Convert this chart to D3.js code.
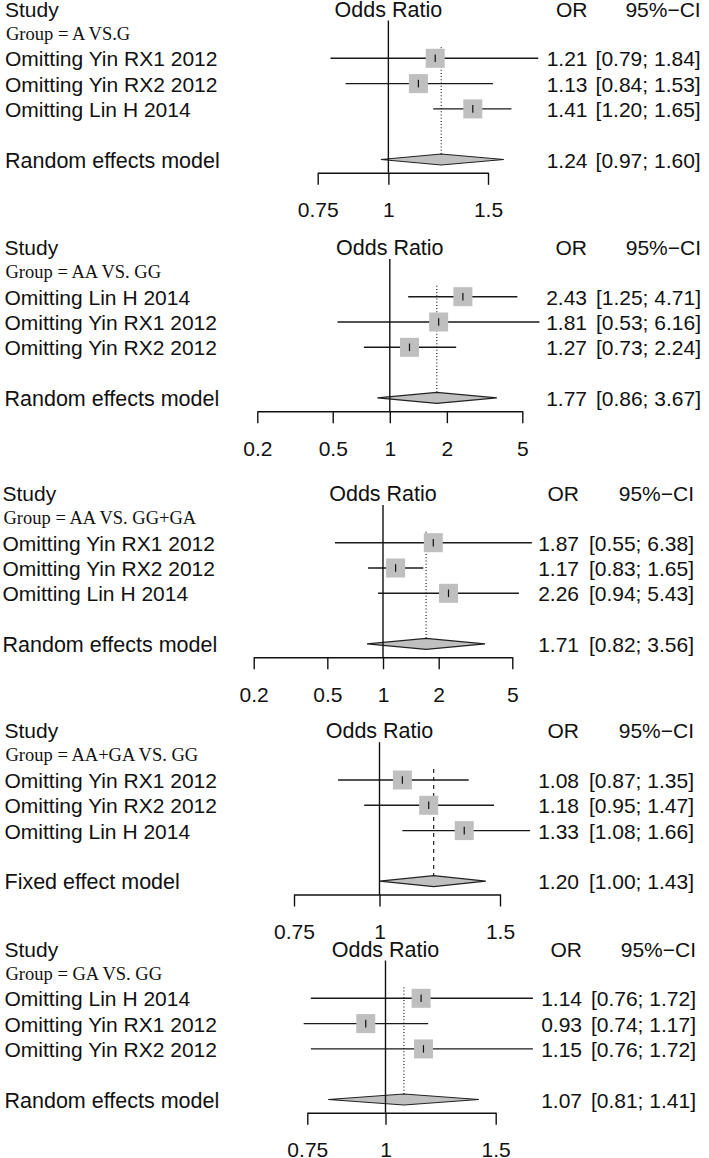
<!DOCTYPE html>
<html><head><meta charset="utf-8">
<script src="https://cdn.jsdelivr.net/npm/d3@7"></script>
<style>
html,body{margin:0;padding:0;background:#fff;}
svg{display:block;}
text{font-family:"Liberation Sans",Arial,Helvetica,sans-serif;fill:#111;}
</style></head><body>
<svg id="chart" width="709" height="1158"></svg>
<script>
// ---------- data ----------
const groupLabels = ["Group = A VS.G", "Group = AA VS. GG", "Group = AA VS. GG+GA", "Group = AA+GA VS. GG", "Group = GA VS. GG"];
const studyNames = [
  ["Omitting Yin RX1 2012", "Omitting Yin RX2 2012", "Omitting Lin H 2014"],
  ["Omitting Lin H 2014", "Omitting Yin RX1 2012", "Omitting Yin RX2 2012"],
  ["Omitting Yin RX1 2012", "Omitting Yin RX2 2012", "Omitting Lin H 2014"],
  ["Omitting Yin RX1 2012", "Omitting Yin RX2 2012", "Omitting Lin H 2014"],
  ["Omitting Lin H 2014", "Omitting Yin RX1 2012", "Omitting Yin RX2 2012"]
];
const orValues = [[1.21, 1.13, 1.41], [2.43, 1.81, 1.27], [1.87, 1.17, 2.26], [1.08, 1.18, 1.33], [1.14, 0.93, 1.15]];
const ciLower  = [[0.79, 0.84, 1.20], [1.25, 0.53, 0.73], [0.55, 0.83, 0.94], [0.87, 0.95, 1.08], [0.76, 0.74, 0.76]];
const ciUpper  = [[1.84, 1.53, 1.65], [4.71, 6.16, 2.24], [6.38, 1.65, 5.43], [1.35, 1.47, 1.66], [1.72, 1.17, 1.72]];
const modelNames = ["Random effects model", "Random effects model", "Random effects model", "Fixed effect model", "Random effects model"];
const modelOR    = [1.24, 1.77, 1.71, 1.20, 1.07];
const modelLower = [0.97, 0.86, 0.82, 1.00, 0.81];
const modelUpper = [1.60, 3.67, 3.56, 1.43, 1.41];
const axisTicks = [[0.75, 1, 1.5], [0.2, 0.5, 1, 2, 5], [0.2, 0.5, 1, 2, 5], [0.75, 1, 1.5], [0.75, 1, 1.5]];
const headStudy = "Study", headEffect = "Odds Ratio", headOR = "OR", headCI = "95%\u2212CI";

// ---------- layout (positions / styles only) ----------
const layout = [
  {row1: 58.3,  xr: [317.7, 488.0], left: 5.0, orRight: 587.5, ciRight: 700.7},
  {row1: 296.7, xr: [257.3, 522.3], left: 4.5, orRight: 587.0, ciRight: 701.0},
  {row1: 542.7, xr: [253.7, 512.3], left: 2.5, orRight: 579.0, ciRight: 694.0},
  {row1: 780.0, xr: [294.0, 500.0], left: 4.5, orRight: 579.0, ciRight: 694.0},
  {row1: 998.3, xr: [307.3, 495.7], left: 4.5, orRight: 582.0, ciRight: 696.0}
];
const SP = 25.3, FS = 21, BASE = 8, SQ = 19, DH = 5.5;
const f2 = d3.format(".2f");

const svg = d3.select("#chart");
svg.append("rect").attr("width", 709).attr("height", 1158).attr("fill", "#fff");

groupLabels.forEach((gl, i) => {
  const L = layout[i];
  const g = svg.append("g");
  const x = d3.scaleLog().domain(d3.extent(axisTicks[i])).range(L.xr);
  const hdrY = L.row1 - 2 * SP, grpY = L.row1 - SP;
  const rows = studyNames[i].map((n, j) => ({name: n, or: orValues[i][j], lo: ciLower[i][j], hi: ciUpper[i][j], y: L.row1 + j * SP}));
  const diaY = L.row1 + 4 * SP;
  const axisY = diaY + 13.3;
  const isFixed = modelNames[i].startsWith("Fixed");

  const txt = (xx, yy, s, anchor, size, fam) => g.append("text")
    .attr("x", xx).attr("y", yy).attr("text-anchor", anchor)
    .style("font-size", (size || FS) + "px")
    .style("font-family", fam || null)
    .text(s);

  // headers
  txt(L.left, hdrY + BASE + 1, headStudy, "start");
  txt(x(1), hdrY + BASE + 1, headEffect, "middle", 21.5);
  txt(L.orRight, hdrY + BASE + 1, headOR, "end");
  txt(L.ciRight, hdrY + BASE + 1, headCI, "end");
  // group label
  txt(L.left + 1, grpY + 6.5, gl, "start", 18.5, "'Liberation Serif','Times New Roman',serif");

  // summary line
  g.append("line")
    .attr("x1", x(modelOR[i])).attr("x2", x(modelOR[i]))
    .attr("y1", L.row1 - 11).attr("y2", diaY - DH)
    .attr("stroke", "#222").attr("stroke-width", 1.2)
    .attr("stroke-dasharray", isFixed ? "4,4" : "1,2.2");

  // CI lines
  g.selectAll("line.ci").data(rows).join("line").attr("class", "ci")
    .attr("x1", d => x(d.lo)).attr("x2", d => x(d.hi))
    .attr("y1", d => d.y).attr("y2", d => d.y)
    .attr("stroke", "#1a1a1a").attr("stroke-width", 1.4);
  // squares
  g.selectAll("rect.sq").data(rows).join("rect").attr("class", "sq")
    .attr("x", d => x(d.or) - SQ / 2).attr("y", d => d.y - SQ / 2)
    .attr("width", SQ).attr("height", SQ).attr("fill", "#bfbfbf");
  // estimate ticks
  g.selectAll("line.est").data(rows).join("line").attr("class", "est")
    .attr("x1", d => x(d.or)).attr("x2", d => x(d.or))
    .attr("y1", d => d.y - 3.8).attr("y2", d => d.y + 3.8)
    .attr("stroke", "#111").attr("stroke-width", 1.2);

  // diamond
  g.append("polygon")
    .attr("points", [[x(modelLower[i]), diaY], [x(modelOR[i]), diaY - DH], [x(modelUpper[i]), diaY], [x(modelOR[i]), diaY + DH]].map(p => p.join(",")).join(" "))
    .attr("fill", "#c0c0c0").attr("stroke", "#222").attr("stroke-width", 1.2);

  // reference line at OR = 1
  g.append("line")
    .attr("x1", x(1)).attr("x2", x(1))
    .attr("y1", hdrY + 12.8).attr("y2", axisY)
    .attr("stroke", "#111").attr("stroke-width", 1.4);

  // row texts
  rows.forEach(d => {
    txt(L.left, d.y + BASE, d.name, "start");
    txt(L.orRight, d.y + BASE, f2(d.or), "end");
    txt(L.ciRight, d.y + BASE, "[" + f2(d.lo) + "; " + f2(d.hi) + "]", "end");
  });
  txt(L.left, diaY + BASE, modelNames[i], "start", 21.5);
  txt(L.orRight, diaY + BASE, f2(modelOR[i]), "end");
  txt(L.ciRight, diaY + BASE, "[" + f2(modelLower[i]) + "; " + f2(modelUpper[i]) + "]", "end");

  // axis
  const ax = g.append("g").attr("transform", `translate(0,${axisY})`)
    .call(d3.axisBottom(x).tickValues(axisTicks[i]).tickSize(12).tickSizeOuter(0).tickPadding(17.7).tickFormat(d => String(d)));
  ax.attr("font-family", null).attr("font-size", null);
  ax.selectAll("path.domain").attr("stroke", "#111").attr("stroke-width", 1.4);
  ax.selectAll(".tick line").attr("stroke", "#111").attr("stroke-width", 1.4);
  ax.selectAll(".tick text").style("font-size", FS + "px").attr("fill", "#111");
});
</script>
</body></html>
